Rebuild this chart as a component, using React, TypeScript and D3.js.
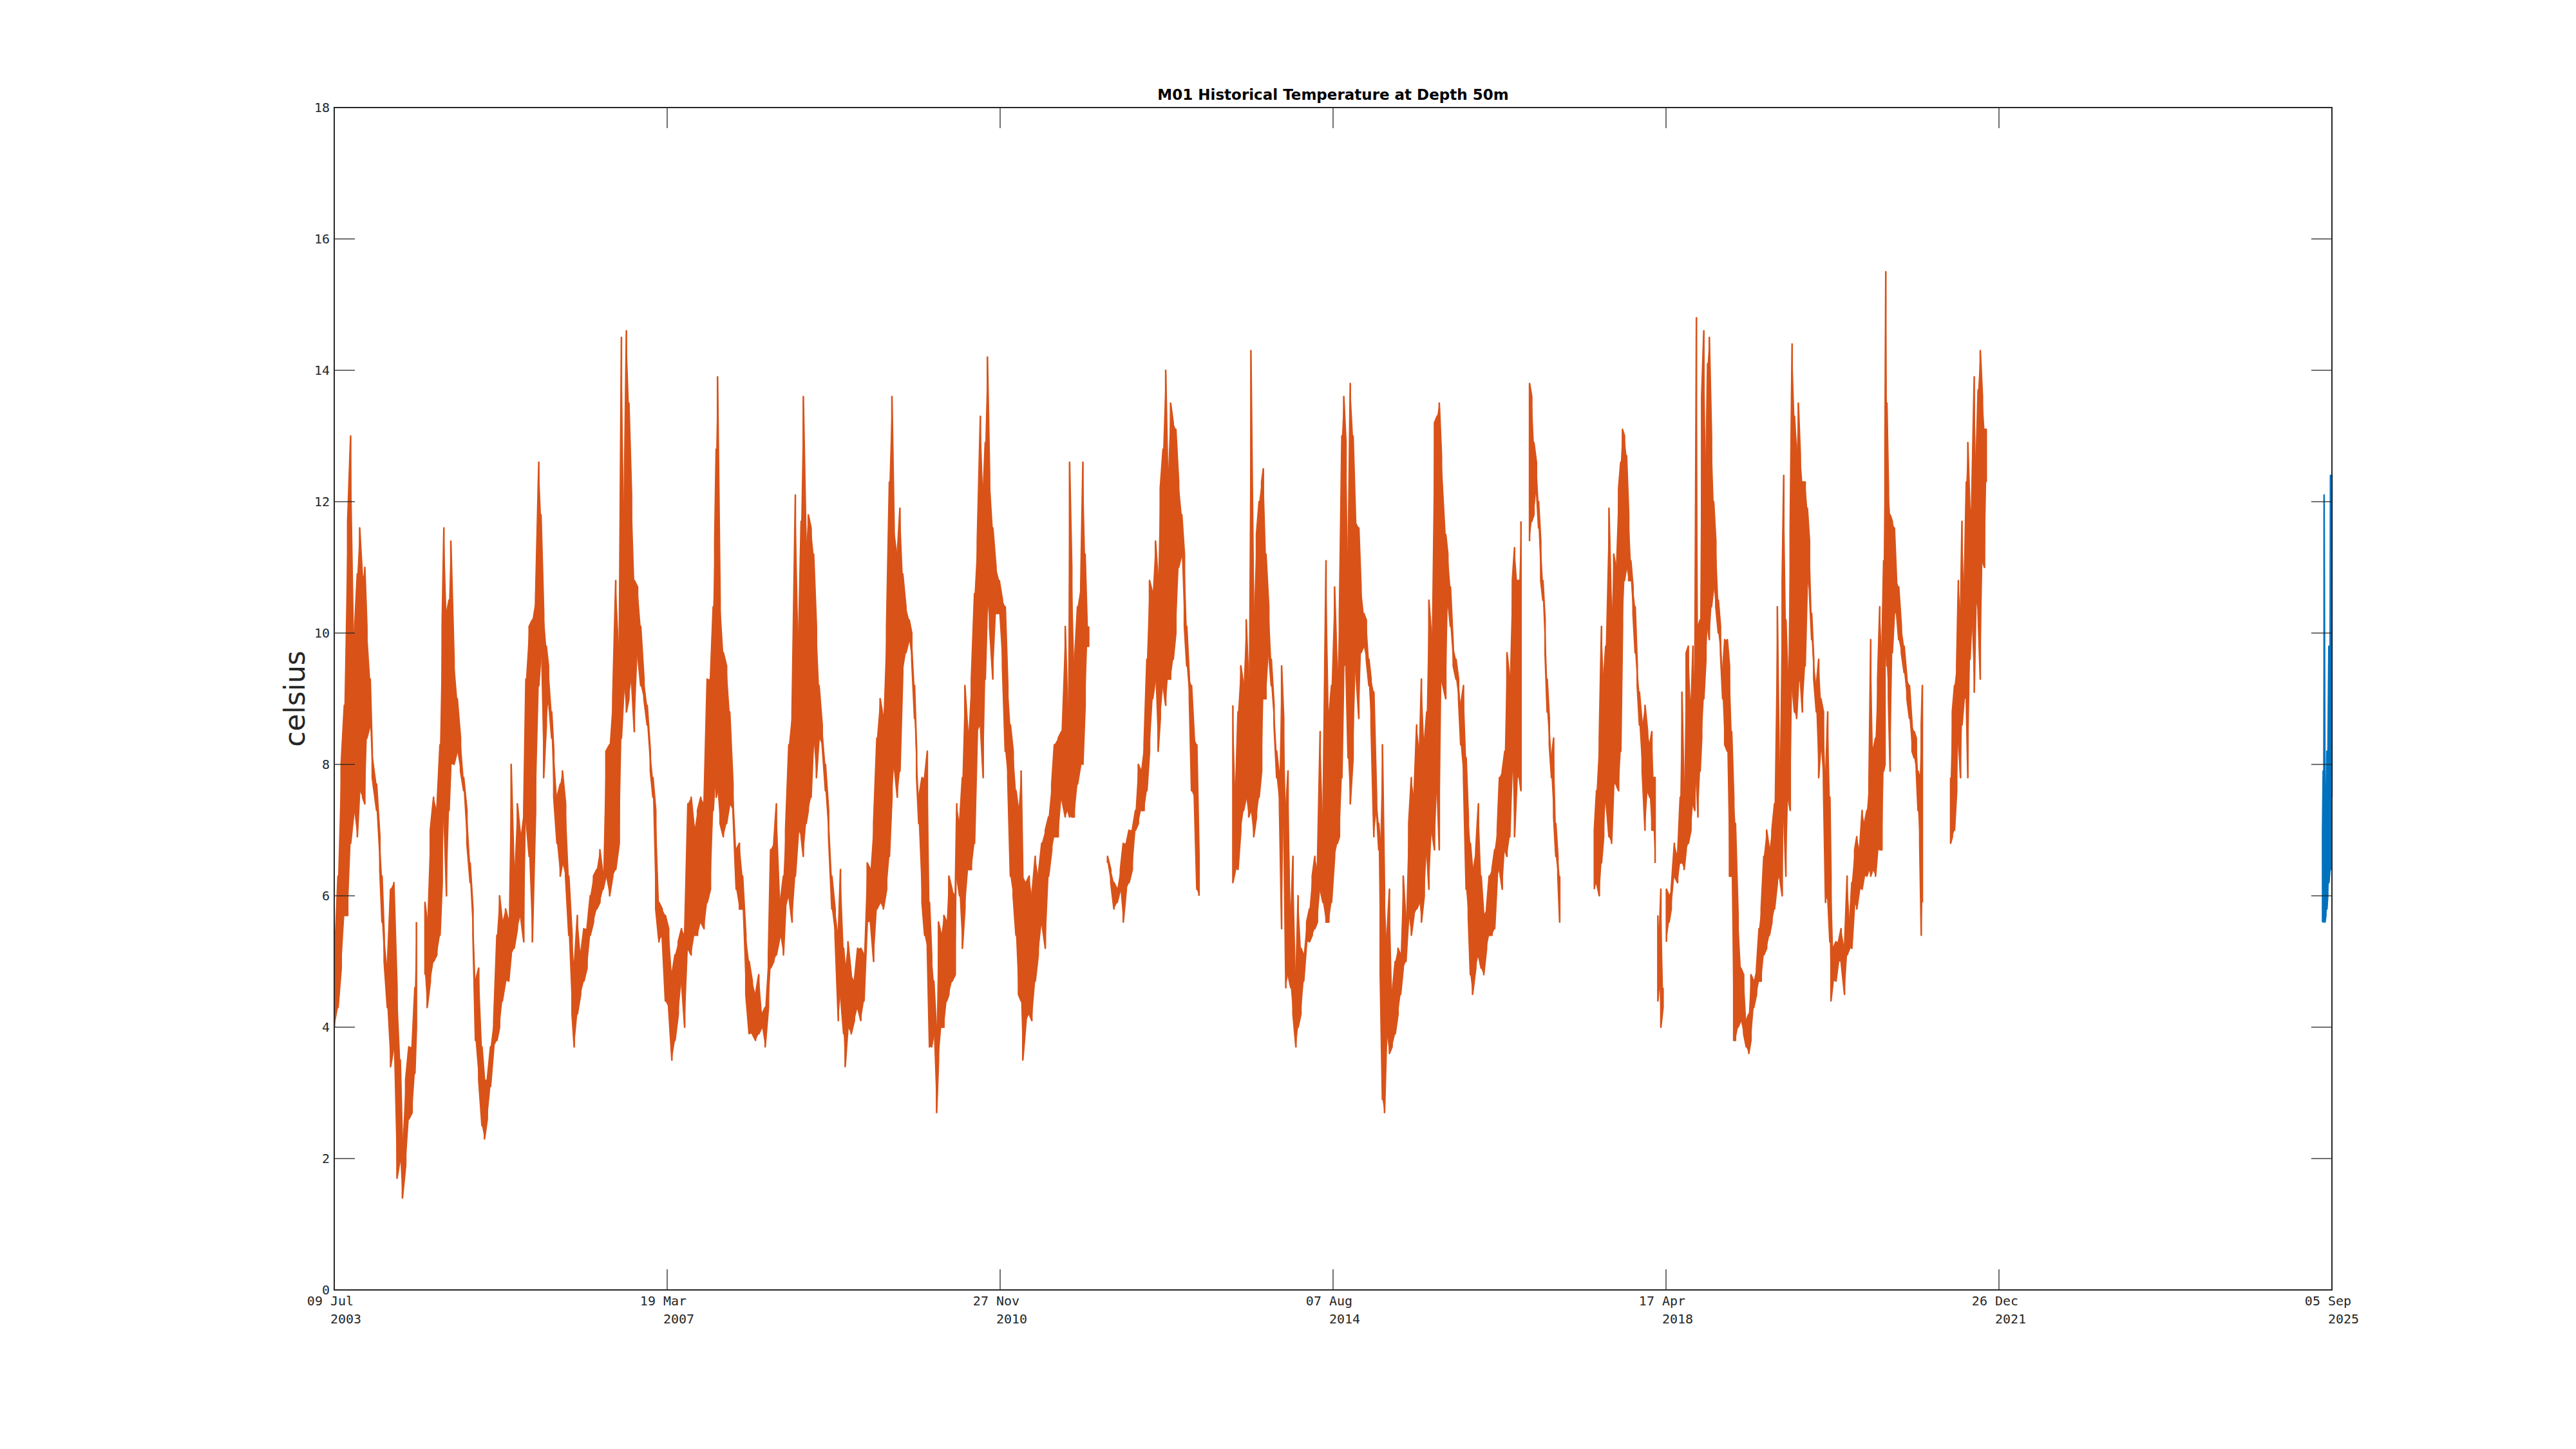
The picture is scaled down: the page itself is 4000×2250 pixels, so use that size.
import React from 'react';
import * as d3 from 'd3';

// ---- data (decimal year, low / high envelope in °C) ----
const histYears = [
  2003.52, 2003.56, 2003.595, 2003.63, 2003.667, 2003.70, 2003.738, 2003.774, 2003.80, 2003.833, 2003.857, 2003.88, 2003.917, 2003.94, 2003.988,
  2004.024, 2004.048, 2004.072, 2004.107, 2004.143, 2004.179, 2004.214, 2004.25, 2004.274, 2004.31, 2004.345, 2004.381, 2004.412, 2004.429,
  2004.47,
  2004.524, 2004.548, 2004.583, 2004.619, 2004.655, 2004.69, 2004.714, 2004.733, 2004.762, 2004.79, 2004.81, 2004.845, 2004.881, 2004.917, 2004.952, 2004.988,
  2005.024, 2005.055, 2005.083, 2005.119, 2005.155, 2005.183, 2005.214, 2005.25, 2005.286, 2005.321, 2005.35, 2005.381, 2005.417, 2005.452, 2005.479,
  2005.512, 2005.548, 2005.583, 2005.619, 2005.643, 2005.679, 2005.714, 2005.75, 2005.786, 2005.81, 2005.84, 2005.869, 2005.893, 2005.929, 2005.952, 2005.988,
  2006.024, 2006.048, 2006.083, 2006.119, 2006.155, 2006.179, 2006.214, 2006.25, 2006.286, 2006.321, 2006.357, 2006.393, 2006.429, 2006.464, 2006.5,
  2006.531, 2006.572, 2006.607, 2006.64, 2006.679, 2006.703, 2006.732, 2006.758, 2006.786, 2006.815, 2006.846, 2006.882, 2006.917, 2006.953, 2006.989,
  2007.024, 2007.053, 2007.084, 2007.12, 2007.155, 2007.191, 2007.227, 2007.263, 2007.298, 2007.334, 2007.37, 2007.405, 2007.441, 2007.477, 2007.513,
  2007.548, 2007.584, 2007.62, 2007.655, 2007.691, 2007.722, 2007.739, 2007.755, 2007.77, 2007.798, 2007.834, 2007.87, 2007.905, 2007.941, 2007.977,
  2008.013, 2008.048, 2008.084, 2008.12, 2008.155, 2008.191, 2008.227, 2008.263, 2008.298, 2008.334, 2008.358, 2008.393, 2008.422, 2008.465, 2008.5,
  2008.524, 2008.56, 2008.596, 2008.632, 2008.667, 2008.696, 2008.72, 2008.751, 2008.775, 2008.806, 2008.834, 2008.865, 2008.894, 2008.929, 2008.965,
  2009.0, 2009.036, 2009.072, 2009.108, 2009.132, 2009.167, 2009.184, 2009.215, 2009.251, 2009.286, 2009.322, 2009.358, 2009.393, 2009.429, 2009.465,
  2009.5, 2009.536, 2009.572, 2009.608, 2009.644, 2009.675, 2009.703, 2009.727, 2009.763, 2009.792, 2009.823, 2009.858, 2009.894, 2009.923, 2009.954, 2009.977,
  2010.001, 2010.037, 2010.066, 2010.096, 2010.12, 2010.144, 2010.168, 2010.199, 2010.22, 2010.251, 2010.28, 2010.311, 2010.335, 2010.37, 2010.406,
  2010.423, 2010.454, 2010.485, 2010.513, 2010.549, 2010.585, 2010.62, 2010.651, 2010.685, 2010.716, 2010.739, 2010.763, 2010.787, 2010.823, 2010.858,
  2010.894, 2010.93, 2010.961, 2010.989, 2011.018, 2011.049, 2011.08, 2011.108, 2011.137, 2011.156, 2011.192, 2011.227, 2011.256, 2011.294, 2011.327,
  2011.366, 2011.406, 2011.442, 2011.477, 2011.506, 2011.549, 2011.585, 2011.627, 2011.656, 2011.675, 2011.699, 2011.727, 2011.763, 2011.799, 2011.823,
  2011.847, 2011.87, 2011.887,
  2012.0,
  2012.096, 2012.132, 2012.167, 2012.203, 2012.239, 2012.27, 2012.304, 2012.334, 2012.37, 2012.406, 2012.437, 2012.466, 2012.501, 2012.532, 2012.561,
  2012.596, 2012.627, 2012.656, 2012.68, 2012.711, 2012.74, 2012.763, 2012.794, 2012.823, 2012.852, 2012.883, 2012.918, 2012.947, 2012.973,
  2013.002, 2013.026, 2013.057, 2013.085, 2013.109,
  2013.3,
  2013.485, 2013.514, 2013.542, 2013.573, 2013.604, 2013.633, 2013.661, 2013.685, 2013.716, 2013.747, 2013.776, 2013.804, 2013.823, 2013.852, 2013.883,
  2013.911, 2013.942, 2013.971, 2014.002, 2014.026, 2014.049, 2014.073, 2014.097, 2014.128, 2014.152, 2014.185, 2014.209, 2014.24, 2014.271, 2014.304,
  2014.335, 2014.366, 2014.395, 2014.423, 2014.454, 2014.485, 2014.519, 2014.55, 2014.58, 2014.614, 2014.645, 2014.668, 2014.695, 2014.716, 2014.74,
  2014.764, 2014.788, 2014.819, 2014.847, 2014.883, 2014.907, 2014.938, 2014.966, 2014.995, 2015.019, 2015.05, 2015.08, 2015.104, 2015.121, 2015.145,
  2015.168, 2015.192, 2015.223, 2015.252, 2015.287, 2015.318, 2015.347, 2015.376, 2015.406, 2015.437, 2015.466, 2015.495, 2015.525, 2015.557, 2015.578,
  2015.609, 2015.637, 2015.661, 2015.692, 2015.723, 2015.752, 2015.776, 2015.8, 2015.848, 2015.871, 2015.9, 2015.931, 2015.962, 2015.99,
  2016.014, 2016.045, 2016.074, 2016.098, 2016.121, 2016.145, 2016.181, 2016.21, 2016.24, 2016.269, 2016.3, 2016.329, 2016.36, 2016.39, 2016.419,
  2016.443, 2016.474, 2016.502, 2016.526, 2016.557, 2016.586, 2016.61, 2016.638, 2016.662, 2016.681,
  2016.73,
  2016.776, 2016.8, 2016.824, 2016.852, 2016.876, 2016.9, 2016.924, 2016.948, 2016.971, 2016.995, 2017.019, 2017.043, 2017.067, 2017.09, 2017.11,
  2017.3,
  2017.495, 2017.519, 2017.55, 2017.574, 2017.598, 2017.621, 2017.657, 2017.686, 2017.71, 2017.733, 2017.764, 2017.788, 2017.807, 2017.829, 2017.852,
  2017.876, 2017.9, 2017.924, 2017.948, 2017.971, 2017.995, 2018.026, 2018.057, 2018.086, 2018.11, 2018.133, 2018.152, 2018.169,
  2018.185,
  2018.2, 2018.217, 2018.233, 2018.257,
  2018.276,
  2018.295, 2018.324, 2018.348, 2018.383, 2018.419, 2018.448, 2018.467, 2018.491, 2018.514, 2018.538, 2018.567, 2018.59, 2018.61, 2018.628, 2018.645,
  2018.669, 2018.686, 2018.71, 2018.733, 2018.752, 2018.771, 2018.795, 2018.819, 2018.843, 2018.871, 2018.895, 2018.919, 2018.942, 2018.971, 2018.995,
  2019.019, 2019.042, 2019.061, 2019.09, 2019.121, 2019.152, 2019.181, 2019.209, 2019.233, 2019.264, 2019.295, 2019.323, 2019.347, 2019.376, 2019.407,
  2019.438, 2019.466, 2019.495, 2019.526, 2019.55, 2019.58, 2019.597, 2019.621, 2019.645, 2019.669, 2019.69, 2019.716, 2019.74, 2019.759, 2019.781,
  2019.804, 2019.835, 2019.859, 2019.883, 2019.907, 2019.93, 2019.959, 2019.985, 2020.009, 2020.038, 2020.061, 2020.085, 2020.109, 2020.121, 2020.145,
  2020.176, 2020.204, 2020.233, 2020.271, 2020.3, 2020.328, 2020.352, 2020.383, 2020.407, 2020.438, 2020.466, 2020.49, 2020.519, 2020.542, 2020.561,
  2020.585, 2020.614, 2020.638, 2020.661, 2020.685, 2020.704, 2020.719, 2020.728, 2020.74, 2020.757, 2020.776, 2020.8, 2020.823, 2020.847, 2020.871,
  2020.9, 2020.931, 2020.962, 2020.99, 2021.019, 2021.042, 2021.066, 2021.085, 2021.104, 2021.121, 2021.133,
  2021.3,
  2021.447, 2021.466, 2021.49, 2021.514, 2021.533, 2021.557, 2021.573, 2021.597, 2021.621, 2021.638, 2021.662, 2021.681, 2021.709, 2021.728, 2021.752,
  2021.776, 2021.8, 2021.823, 2021.842,
];

const histLow = [
  4.0, 4.3, 4.9, 5.7, 5.7, 6.8, 7.3, 6.9, 7.6, 7.5, 7.4, 8.4, 8.6, 7.8, 7.3,
  6.4, 5.6, 5.0, 4.3, 3.4, 3.7, 1.7, 2.0, 1.4, 1.9, 2.6, 2.7, 3.3, 4.0,
  NaN,
  4.8, 4.3, 4.7, 5.0, 5.1, 5.4, 6.2, 7.3, 6.0, 7.3, 8.0, 8.0, 8.2, 7.9, 7.6, 6.8,
  6.2, 5.4, 3.8, 3.2, 2.5, 2.3, 2.6, 3.1, 3.7, 3.8, 4.0, 4.4, 4.7, 4.7, 5.1,
  5.2, 5.5, 5.7, 5.3, 7.2, 6.6, 5.3, 7.3, 9.2, 9.7, 7.8, 8.6, 9.0, 8.4, 7.5, 6.8,
  6.3, 6.5, 6.3, 5.4, 4.2, 3.7, 4.2, 4.5, 4.7, 4.9, 5.4, 5.6, 5.8, 5.9, 6.1,
  6.3, 6.0, 6.3, 6.4, 6.8, 8.4, 9.2, 8.8, 9.0, 9.3, 8.5, 9.7, 9.2, 9.0, 8.6,
  7.9, 7.5, 5.8, 5.3, 5.4, 4.4, 4.3, 3.5, 3.8, 4.2, 4.7, 4.0, 5.2, 5.1, 5.4,
  5.4, 5.6, 5.5, 5.9, 6.1, 7.3, 7.7, 7.5, 7.6, 7.1, 6.9, 7.1, 7.4, 7.3, 6.1,
  5.8, 5.8, 4.5, 3.9, 3.9, 3.8, 3.9, 4.0, 3.7, 4.3, 4.9, 5.0, 5.1, 5.4, 5.1,
  5.8, 6.0, 5.6, 6.3, 7.0, 6.9, 6.6, 7.1, 7.3, 7.5, 8.4, 7.8, 8.4, 8.3, 7.6,
  6.9, 5.8, 5.4, 4.1, 4.5, 3.9, 3.4, 4.0, 3.9, 4.1, 4.3, 4.1, 4.4, 5.6, 5.6,
  5.0, 5.8, 5.9, 5.8, 6.1, 6.6, 7.5, 8.0, 7.5, 7.9, 9.4, 9.7, 9.9, 9.6, 8.7, 7.8,
  7.1, 5.9, 5.4, 5.2, 3.7, 3.7, 3.9, 2.7, 3.5, 4.0, 4.0, 4.4, 4.5, 4.7, 4.8,
  6.3, 6.0, 5.2, 5.8, 6.4, 6.4, 6.8, 8.5, 8.6, 7.8, 9.3, 10.5, 10.1, 9.3, 10.3,
  10.3, 9.5, 8.2, 7.8, 6.3, 6.0, 5.4, 4.5, 4.4, 3.5, 4.1, 4.2, 4.1, 4.7, 5.1,
  5.6, 5.2, 6.3, 6.7, 6.9, 6.9, 7.5, 7.2, 7.3, 7.2, 7.2, 7.2, 7.7, 8.0, 8.0,
  8.9, 9.8, 9.8,
  NaN,
  6.5, 6.2, 5.8, 5.9, 6.1, 5.6, 6.1, 6.2, 6.4, 7.0, 7.1, 7.3, 7.3, 7.6, 8.2,
  9.0, 9.3, 8.2, 8.7, 9.2, 8.9, 9.3, 9.3, 9.6, 10.0, 11.0, 11.2, 10.1, 9.5,
  9.0, 7.6, 7.5, 6.1, 6.0,
  NaN,
  6.2, 6.4, 6.4, 7.0, 7.3, 7.5, 7.2, 7.3, 6.9, 7.2, 7.5, 7.9, 9.0, 9.0, 9.7,
  9.2, 8.6, 7.8, 7.4, 5.5, 7.3, 4.6, 4.8, 4.6, 4.2, 3.7, 4.0, 4.2, 4.7, 5.3,
  5.3, 5.4, 5.5, 5.6, 6.1, 5.9, 5.6, 5.6, 5.9, 6.6, 6.8, 6.9, 7.8, 9.5, 9.5,
  8.1, 7.4, 8.1, 9.5, 8.7, 9.7, 9.8, 9.6, 9.2, 8.6, 6.9, 7.3, 6.7, 4.8, 2.9,
  2.7, 3.9, 3.6, 3.7, 3.9, 4.2, 4.5, 4.9, 5.0, 5.7, 5.4, 5.7, 5.8, 5.9, 5.6,
  6.0, 6.7, 6.1, 7.0, 6.7, 7.7, 6.7, 9.3, 9.0, 10.5, 10.1, 9.5, 9.3, 9.0,
  8.3, 7.8, 6.1, 5.7, 4.8, 4.5, 4.9, 5.1, 4.9, 4.8, 5.2, 5.4, 5.4, 5.5, 6.3,
  6.4, 6.1, 6.7, 6.6, 6.9, 8.1, 6.9, 7.8, 7.8, 7.6,
  NaN,
  11.4, 11.7, 11.8, 12.2, 11.6, 10.8, 10.5, 9.7, 8.8, 8.3, 7.8, 7.2, 6.6, 6.3, 5.6,
  NaN,
  6.1, 6.2, 6.0, 6.5, 6.9, 7.5, 6.9, 6.8, 7.7, 7.7, 7.6, 8.2, 10.1, 10.8, 11.0,
  10.8, 10.8, 10.3, 9.7, 9.2, 8.6, 7.9, 7.0, 7.6, 7.5, 7.0, 7.0, 6.5,
  NaN,
  4.4, 4.7, 4.0, 4.3,
  NaN,
  5.3, 5.6, 5.8, 6.3, 6.2, 6.5, 6.5, 6.4, 6.7, 6.8, 7.0, 7.4, 7.3, 7.8, 7.2,
  7.9, 8.4, 9.0, 9.6, 10.1, 9.9, 10.4, 10.7, 10.4, 10.0, 9.7, 9.0, 8.3, 8.2, 6.3,
  6.3, 3.8, 3.8, 4.0, 4.1, 3.9, 3.7, 3.6, 3.8, 4.3, 4.5, 4.7, 4.7, 5.1, 5.2,
  5.4, 5.6, 5.8, 6.2, 6.3, 6.0, 7.3, 6.3, 7.5, 7.3, 9.2, 8.8, 8.7, 9.2, 9.3,
  8.8, 9.5, 10.8, 10.6, 9.9, 9.3, 8.8, 7.8, 8.3, 7.7, 5.9, 6.0, 5.3, 4.4, 4.7,
  4.7, 5.0, 5.0, 4.5, 5.1, 5.2, 5.2, 5.9, 5.8, 6.1, 6.1, 6.3, 6.3, 6.4, 6.3,
  6.4, 6.3, 6.7, 6.7, 6.7, 7.9, 8.0, 10.1, 9.5, 9.0, 7.9, 9.7, 10.3, 10.3, 9.9,
  9.7, 9.4, 9.0, 8.7, 8.2, 8.1, 7.9, 7.3, 6.8, 5.4, 5.9,
  NaN,
  6.8, 6.9, 7.0, 7.6, 8.4, 7.8, 8.6, 9.0, 9.0, 7.8, 9.6, 10.2, 9.1, 10.5, 10.3,
  9.3, 11.1, 11.0, 12.3,
];

const histHigh = [
  5.0, 6.3, 8.0, 8.9, 11.7, 13.0, 9.9, 10.9, 11.6, 10.8, 11.0, 10.1, 9.3, 8.2, 7.7,
  6.9, 6.3, 5.4, 4.9, 6.1, 6.2, 4.6, 3.5, 2.2, 3.2, 3.7, 3.7, 4.6, 5.6,
  NaN,
  5.9, 5.6, 7.0, 7.5, 7.3, 8.3, 10.1, 11.6, 10.3, 10.5, 11.4, 9.6, 9.0, 8.4, 7.8, 7.3,
  6.5, 5.8, 4.7, 4.9, 3.7, 3.2, 3.2, 3.7, 4.1, 5.4, 6.0, 5.6, 5.8, 5.6, 8.0,
  6.3, 7.4, 6.9, 7.3, 9.3, 10.1, 10.2, 10.5, 12.6, 11.8, 10.3, 9.8, 9.5, 8.8, 8.2, 7.5,
  7.7, 7.9, 7.4, 6.3, 5.4, 4.9, 5.7, 5.1, 5.5, 5.5, 6.0, 6.3, 6.4, 6.7, 6.3,
  8.2, 8.3, 9.0, 10.8, 9.7, 14.5, 11.7, 14.6, 13.5, 12.1, 10.8, 10.7, 10.1, 9.3, 8.9,
  8.2, 7.8, 7.3, 5.9, 5.8, 5.7, 5.5, 4.8, 5.1, 5.3, 5.5, 5.4, 7.4, 7.5, 7.0,
  7.3, 7.5, 7.4, 9.3, 9.3, 10.4, 11.4, 12.8, 13.9, 10.5, 9.7, 9.5, 8.8, 7.7, 6.7,
  6.8, 6.3, 5.4, 5.0, 4.7, 4.5, 4.8, 4.2, 4.3, 5.1, 6.7, 6.8, 7.4, 5.9, 6.3,
  7.0, 8.3, 8.8, 12.1, 9.8, 11.7, 13.6, 11.3, 11.8, 11.6, 11.2, 10.1, 9.2, 8.6, 8.0,
  7.3, 6.3, 5.8, 5.4, 6.4, 5.2, 4.9, 5.3, 4.8, 4.7, 5.2, 5.2, 5.1, 6.5, 6.4,
  7.1, 8.4, 9.0, 8.7, 10.1, 12.3, 13.6, 11.6, 11.2, 11.9, 10.9, 10.4, 10.2, 10.0, 9.2, 8.2,
  7.5, 7.8, 7.8, 8.2, 5.9, 5.1, 4.7, 3.9, 5.6, 5.4, 5.7, 5.6, 6.3, 6.1, 6.0,
  7.4, 7.1, 7.8, 9.2, 8.4, 9.3, 10.6, 11.4, 13.3, 12.1, 12.9, 14.2, 12.4, 11.6, 11.0,
  10.8, 10.5, 10.4, 9.2, 8.6, 8.2, 7.6, 7.3, 7.9, 6.3, 6.2, 6.3, 6.0, 6.6, 6.3,
  6.8, 7.0, 7.2, 7.7, 8.3, 8.4, 8.5, 10.1, 8.7, 12.6, 11.0, 9.5, 10.4, 10.7, 12.6,
  11.2, 10.1, 10.1,
  NaN,
  6.6, 6.4, 6.2, 6.1, 6.4, 6.8, 6.8, 7.0, 7.0, 7.3, 8.0, 7.9, 8.3, 9.6, 10.8,
  10.6, 11.4, 10.8, 12.2, 12.8, 14.0, 12.3, 13.5, 13.2, 13.1, 12.3, 11.8, 11.2, 10.1,
  9.3, 9.2, 8.4, 8.3, 6.6,
  NaN,
  8.9, 7.5, 8.8, 9.5, 9.2, 10.2, 9.2, 14.3, 10.2, 11.5, 12.0, 12.3, 12.5, 11.2, 10.4,
  9.6, 8.9, 8.2, 7.8, 9.5, 8.7, 7.3, 7.9, 5.6, 6.6, 4.7, 6.0, 5.2, 5.1, 5.6,
  5.8, 6.3, 6.6, 6.4, 8.5, 7.1, 11.1, 8.7, 9.2, 10.7, 9.3, 10.3, 13.0, 13.6, 12.9,
  11.0, 13.8, 13.0, 11.7, 11.6, 10.7, 10.3, 10.2, 9.6, 9.3, 9.1, 7.5, 7.1, 6.8, 8.3,
  6.1, 5.3, 6.1, 4.5, 5.0, 5.2, 5.1, 6.3, 5.6, 7.1, 7.8, 7.5, 8.6, 8.2, 9.3,
  8.3, 8.8, 10.5, 9.9, 13.2, 13.3, 13.5, 12.7, 11.5, 11.2, 10.7, 9.8, 9.6, 9.3,
  8.9, 9.2, 8.1, 7.2, 6.8, 6.4, 6.7, 7.4, 6.3, 5.7, 5.8, 6.3, 6.4, 6.7, 7.0,
  7.8, 7.9, 8.2, 9.7, 9.3, 10.8, 11.3, 10.8, 10.8, 11.7,
  NaN,
  13.8, 13.6, 12.9, 12.6, 12.0, 11.4, 10.8, 10.2, 9.3, 8.7, 8.1, 8.4, 7.1, 6.6, 6.3,
  NaN,
  7.0, 7.6, 8.4, 10.1, 9.3, 9.8, 11.9, 10.2, 11.2, 11.0, 12.2, 12.6, 13.1, 13.0, 12.7,
  11.8, 11.1, 10.7, 10.4, 9.5, 9.1, 8.6, 8.9, 8.5, 8.3, 8.5, 7.8, 7.8,
  NaN,
  5.7, 5.4, 6.1, 4.6,
  NaN,
  6.1, 6.0, 6.1, 6.8, 6.6, 7.5, 9.1, 7.5, 9.7, 9.8, 8.8, 9.8, 9.2, 14.8, 10.1,
  10.2, 13.6, 14.6, 12.4, 14.1, 14.5, 13.0, 12.0, 11.4, 10.5, 10.1, 9.4, 9.9, 9.9, 9.5,
  8.5, 7.5, 7.1, 5.7, 4.9, 4.8, 4.1, 4.2, 4.8, 4.7, 4.9, 5.5, 5.8, 6.6, 7.0,
  6.7, 7.0, 7.4, 10.4, 7.6, 10.8, 12.4, 10.2, 9.2, 11.6, 14.4, 13.3, 12.7, 13.5, 12.7,
  12.3, 12.3, 11.9, 11.4, 10.3, 9.6, 9.2, 9.6, 9.0, 8.8, 7.7, 8.8, 7.5, 6.3, 5.2,
  5.3, 5.3, 5.5, 5.2, 6.3, 5.6, 6.2, 6.7, 6.9, 6.7, 7.3, 7.1, 7.3, 7.7, 9.9,
  8.2, 8.4, 9.3, 10.4, 9.7, 11.1, 12.8, 15.5, 13.5, 12.2, 11.8, 11.7, 11.6, 10.8, 10.7,
  10.1, 9.8, 9.3, 9.2, 8.6, 8.5, 8.4, 7.9, 7.8, 8.6, 9.2,
  NaN,
  7.8, 8.8, 9.2, 9.5, 10.8, 10.3, 11.7, 10.6, 12.3, 12.9, 11.8, 12.0, 13.9, 12.5, 13.7,
  14.3, 13.6, 13.1, 13.1,
];

const recentYears = [2025.573, 2025.58, 2025.59, 2025.6, 2025.609, 2025.621, 2025.63, 2025.643, 2025.655, 2025.661, 2025.67, 2025.677];
const recentLow = [5.6, 5.6, 5.7, 5.6, 5.7, 5.8, 6.0, 6.2, 6.4, 6.4, 7.1, 7.5];
const recentHigh = [7.0, 7.9, 12.1, 6.9, 6.8, 8.2, 7.6, 9.8, 8.0, 12.4, 12.4, 12.4];

const xTickDates = ['2003-07-09', '2007-03-19', '2010-11-27', '2014-08-07', '2018-04-17', '2021-12-26', '2025-09-05'];
const yTickValues = [0, 2, 4, 6, 8, 10, 12, 14, 16, 18];
const chartTitle = 'M01 Historical Temperature at Depth 50m';
const yAxisLabel = 'celsius';

const HIST_COLOR = '#D95319';
const RECENT_COLOR = '#0072BD';
const AXIS_COLOR = '#262626';

function decYearToDate(v: number): Date {
  const yr = Math.floor(v);
  const a = Date.UTC(yr, 0, 1);
  const b = Date.UTC(yr + 1, 0, 1);
  return new Date(a + (v - yr) * (b - a));
}

type Pt = { t: Date; lo: number; hi: number };

function buildSeries(years: number[], lo: number[], hi: number[]): Pt[] {
  return years.map((y, i) => ({ t: decYearToDate(y), lo: lo[i], hi: hi[i] }));
}

export default function App() {
  const W = 4000;
  const H = 2250;
  const left = 519;
  const right = 3621;
  const top = 167;
  const bottom = 2003;

  const parse = d3.utcParse('%Y-%m-%d');
  const tickDates = xTickDates.map((s) => parse(s) as Date);

  const x = d3.scaleUtc().domain([tickDates[0], tickDates[tickDates.length - 1]]).range([left, right]);
  const y = d3.scaleLinear().domain([0, 18]).range([bottom, top]);

  const hist = buildSeries(histYears, histLow, histHigh);
  const recent = buildSeries(recentYears, recentLow, recentHigh);

  const area = d3
    .area<Pt>()
    .defined((d) => !isNaN(d.lo) && !isNaN(d.hi))
    .x((d) => x(d.t))
    .y0((d) => y(d.lo))
    .y1((d) => y(d.hi));

  // zig-zag trace through low/high readings (mimics the dense raw line)
  const zigzag = (pts: Pt[]) => {
    const seq: { t: Date; v: number }[] = [];
    pts.forEach((d, i) => {
      if (isNaN(d.lo)) {
        seq.push({ t: d.t, v: NaN });
      } else if (i % 2 === 0) {
        seq.push({ t: d.t, v: d.lo }, { t: d.t, v: d.hi });
      } else {
        seq.push({ t: d.t, v: d.hi }, { t: d.t, v: d.lo });
      }
    });
    return d3
      .line<{ t: Date; v: number }>()
      .defined((d) => !isNaN(d.v))
      .x((d) => x(d.t))
      .y((d) => y(d.v))(seq) as string;
  };

  const fmtDay = d3.utcFormat('%d %b');
  const fmtYear = d3.utcFormat('%Y');
  const fontSize = 20;
  const cw = fontSize * 0.602;
  const tickLen = 32;
  const mono = '"DejaVu Sans Mono", monospace';
  const sans = '"DejaVu Sans", sans-serif';

  return (
    <svg
      width={W}
      height={H}
      viewBox={`0 0 ${W} ${H}`}
      style={{ position: 'absolute', left: 0, top: 0, background: '#fff' }}
    >
      <rect x={0} y={0} width={W} height={H} fill="#ffffff" />

      {/* data */}
      <g>
        <path d={area(hist) as string} fill={HIST_COLOR} stroke="none" />
        <path d={zigzag(hist)} fill="none" stroke={HIST_COLOR} strokeWidth={2.5} strokeLinejoin="round" />
        <path d={area(recent) as string} fill={RECENT_COLOR} stroke="none" />
        <path d={zigzag(recent)} fill="none" stroke={RECENT_COLOR} strokeWidth={2.5} strokeLinejoin="round" />
      </g>

      {/* ticks */}
      <g stroke={AXIS_COLOR} strokeWidth={1.3}>
        {yTickValues.map((v) => (
          <g key={`yt${v}`}>
            <line x1={left} x2={left + tickLen} y1={y(v)} y2={y(v)} />
            <line x1={right - tickLen} x2={right} y1={y(v)} y2={y(v)} />
          </g>
        ))}
        {tickDates.map((d, i) => (
          <g key={`xt${i}`}>
            <line x1={x(d)} x2={x(d)} y1={bottom} y2={bottom - tickLen} />
            <line x1={x(d)} x2={x(d)} y1={top} y2={top + tickLen} />
          </g>
        ))}
      </g>

      {/* box */}
      <rect x={left} y={top} width={right - left} height={bottom - top} fill="none" stroke={AXIS_COLOR} strokeWidth={2} />

      {/* y tick labels */}
      <g fontFamily={mono} fontSize={fontSize} fill={AXIS_COLOR}>
        {yTickValues.map((v) => (
          <text key={`yl${v}`} x={left - 7} y={y(v)} dy="0.35em" textAnchor="end">
            {v}
          </text>
        ))}
      </g>

      {/* x tick labels */}
      <g fontFamily={mono} fontSize={fontSize} fill={AXIS_COLOR}>
        {tickDates.map((d, i) => (
          <g key={`xl${i}`}>
            <text x={x(d) - 3.5 * cw} y={2027} textAnchor="start">
              {fmtDay(d)}
            </text>
            <text x={x(d) - 0.5 * cw} y={2055} textAnchor="start">
              {fmtYear(d)}
            </text>
          </g>
        ))}
      </g>

      {/* y label */}
      <text
        transform={`translate(473, ${(top + bottom) / 2}) rotate(-90)`}
        textAnchor="middle"
        fontFamily={sans}
        fontSize={44}
        fill={AXIS_COLOR}
      >
        {yAxisLabel}
      </text>

      {/* title */}
      <text
        x={(left + right) / 2}
        y={155}
        textAnchor="middle"
        fontFamily={sans}
        fontWeight="bold"
        fontSize={23}
        fill="#000"
      >
        {chartTitle}
      </text>
    </svg>
  );
}
